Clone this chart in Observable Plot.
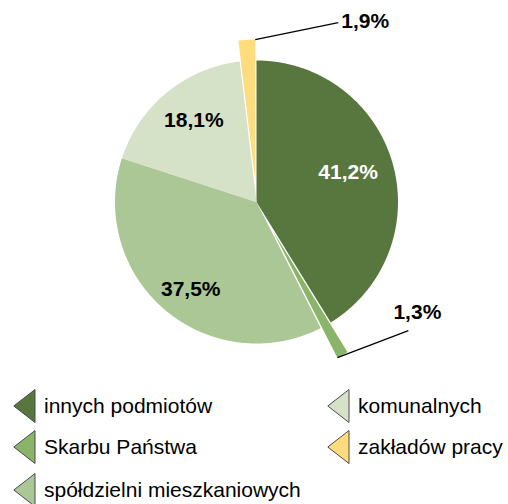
<!DOCTYPE html>
<html><head><meta charset="utf-8">
<script src="https://cdn.jsdelivr.net/npm/d3@7"></script>
<script src="https://cdn.jsdelivr.net/npm/@observablehq/plot@0.6"></script>
<style>
body{margin:0;background:#fff;font-family:"Liberation Sans",Arial,sans-serif;}
#wrap{position:relative;width:508px;height:504px;overflow:hidden;}
#chart svg{display:block;}
.item{position:absolute;display:flex;align-items:center;height:34px;font-size:21px;color:#000;white-space:nowrap;}
.item svg{margin-right:8px;flex:none;}
</style></head><body><div id="wrap"><div id="chart"></div></div>
<script>
const categories = ["innych podmiotów", "Skarbu Państwa", "spółdzielni mieszkaniowych", "komunalnych", "zakładów pracy"];
const values = [41.2, 1.3, 37.5, 18.1, 1.9];
const labels = ["41,2%", "1,3%", "37,5%", "18,1%", "1,9%"];
const colors = ["#57773f", "#8ab46a", "#aac795", "#d5e2c8", "#ffdc7e"];
const legendCols = [0, 0, 0, 1, 1];
const legendRows = [0, 1, 2, 0, 1];

// style / layout
const W = 508, H = 372, cx = 256, cy = 201.5, R = 141.5;
const explode = [0, 0.24, 0, 0, 0.148];
const labelRadius = [0.68, null, 0.77, 0.72, null];
const labelNudgePx = [[-1, -3], null, [5, 4], [2, -3], null];
const leaderPx = [null, [71, -27], null, null, [83, -17]];
const outLabelPx = [null, [9, -18, "middle"], null, null, [3, -1, "start"]];
const labelFill = ["white", "black", "black", "black", "black"];
const labelSize = 21;

const arcs = d3.pie().sort(null).value(d => d)(values);
const slicePts = [];
const inLabels = [], outLabels = [], leaders = [];
arcs.forEach((a, i) => {
  const s = a.startAngle, e = a.endAngle, mid = (s + e) / 2;
  const ox = explode[i] * Math.sin(mid), oy = -explode[i] * Math.cos(mid);
  slicePts.push({cat: categories[i], x: ox, y: oy});
  const n = Math.max(2, Math.ceil((e - s) / 0.005));
  for (let k = 0; k <= n; k++) {
    const t = s + (e - s) * k / n;
    slicePts.push({cat: categories[i], x: ox + Math.sin(t), y: oy - Math.cos(t)});
  }
  if (labelRadius[i] != null) {
    inLabels.push({
      x: Math.sin(mid) * labelRadius[i] + labelNudgePx[i][0] / R,
      y: -Math.cos(mid) * labelRadius[i] + labelNudgePx[i][1] / R,
      text: labels[i], fill: labelFill[i]
    });
  } else {
    const x1 = ox + Math.sin(e), y1 = oy - Math.cos(e);
    const x2 = x1 + leaderPx[i][0] / R, y2 = y1 + leaderPx[i][1] / R;
    leaders.push({x1, y1, x2, y2});
    outLabels.push({x: x2 + outLabelPx[i][0] / R, y: y2 + outLabelPx[i][1] / R, text: labels[i], anchor: outLabelPx[i][2]});
  }
});

const font = "'Liberation Sans', Arial, sans-serif";
const chart = Plot.plot({
  width: W, height: H,
  margin: 0, marginTop: 0, marginRight: 0, marginBottom: 0, marginLeft: 0,
  style: {fontFamily: font, background: "white", overflow: "visible"},
  x: {domain: [-cx / R, (W - cx) / R], range: [0, W], axis: null},
  y: {domain: [-cy / R, (H - cy) / R], range: [0, H], axis: null},
  color: {type: "ordinal", domain: categories, range: colors},
  marks: [
    Plot.line(slicePts, {x: "x", y: "y", z: "cat", fill: "cat", stroke: "none", curve: "linear-closed"}),
    Plot.link(leaders, {x1: "x1", y1: "y1", x2: "x2", y2: "y2", stroke: "black", strokeWidth: 1.2}),
    Plot.text(inLabels, {x: "x", y: "y", text: "text", fill: "fill", fontWeight: "bold", fontSize: labelSize, textAnchor: "middle"}),
    Plot.text(outLabels.filter(d => d.anchor === "middle"), {x: "x", y: "y", text: "text", fill: "black", fontWeight: "bold", fontSize: labelSize, textAnchor: "middle"}),
    Plot.text(outLabels.filter(d => d.anchor === "start"), {x: "x", y: "y", text: "text", fill: "black", fontWeight: "bold", fontSize: labelSize, textAnchor: "start"})
  ]
});
document.getElementById("chart").appendChild(chart);

// legend
const wrap = document.getElementById("wrap");
const colLeft = [13, 327], rowTop = [388.5, 430, 473];
categories.forEach((c, i) => {
  const div = document.createElement("div");
  div.className = "item";
  div.style.left = colLeft[legendCols[i]] + "px";
  div.style.top = rowTop[legendRows[i]] + "px";
  div.innerHTML = `<svg width="23" height="34"><polygon points="22,0.5 22,33.5 0.8,17" fill="${colors[i]}" stroke="#4a4a4a" stroke-width="1"/></svg><span>${c}</span>`;
  wrap.appendChild(div);
});
</script></body></html>
